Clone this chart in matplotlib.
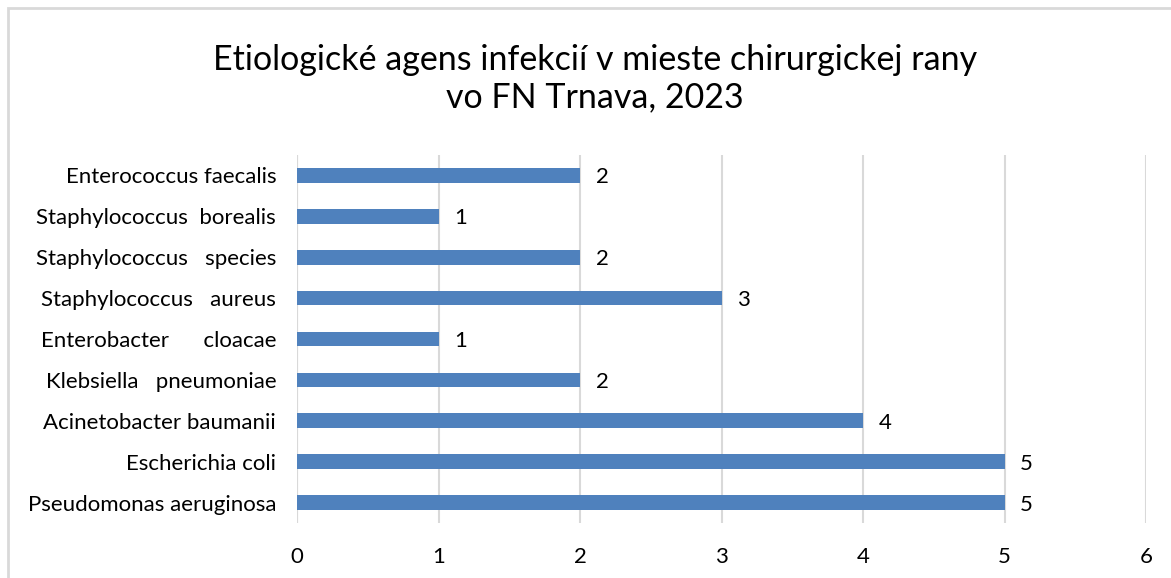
import matplotlib.pyplot as plt
from matplotlib.patches import Rectangle

plt.rcParams['font.family'] = ['Lato', 'DejaVu Sans']

categories = [
    "Pseudomonas aeruginosa",
    "Escherichia coli",
    "Acinetobacter baumanii",
    "Klebsiella   pneumoniae",
    "Enterobacter      cloacae",
    "Staphylococcus   aureus",
    "Staphylococcus   species",
    "Staphylococcus  borealis",
    "Enterococcus faecalis",
]
values = [5, 5, 4, 2, 1, 3, 2, 1, 2]
xticks = [0, 1, 2, 3, 4, 5, 6]

W, H = 1171, 578
fig = plt.figure(figsize=(W / 100, H / 100), dpi=100)

# outer chart border (cut off at the right and bottom like the reference)
fig.patches.append(Rectangle((8 / W, -0.1), 1.2, 1 - 8 / H + 0.1,
                             transform=fig.transFigure, fill=False,
                             edgecolor="#d9d9d9", linewidth=2))

ax = fig.add_axes([297 / W, 1 - 523 / H, (1146 - 297) / W, (523 - 155) / H])
y = list(range(len(categories)))
ax.barh(y, values, height=0.36, color="#4f81bd", zorder=3)
for yi, v in zip(y, values):
    ax.text(v + 0.11, yi - 0.05, str(v), va="center", ha="left", fontsize=16)

ax.set_xlim(0, 6)
ax.set_ylim(-0.5, len(categories) - 0.5)
ax.set_xticks(xticks)
ax.set_xticklabels([str(t) for t in xticks], fontsize=16)
ax.set_yticks(y)
ax.set_yticklabels(categories, fontsize=16)
ax.tick_params(axis="x", length=0, pad=17)
ax.tick_params(axis="y", length=0, pad=15)
ax.grid(axis="x", color="#d9d9d9", linewidth=1.5, zorder=0)
for s in ["top", "right", "bottom", "left"]:
    ax.spines[s].set_visible(False)
ax.axvline(0, color="#d9d9d9", linewidth=1.5, zorder=1)

fig.text(595 / W, 1 - 79 / H,
         "Etiologické agens infekcií v mieste chirurgickej rany\nvo FN Trnava, 2023",
         ha="center", va="center", fontsize=24.5, linespacing=1.2)

fig.savefig("out.png", dpi=100)
